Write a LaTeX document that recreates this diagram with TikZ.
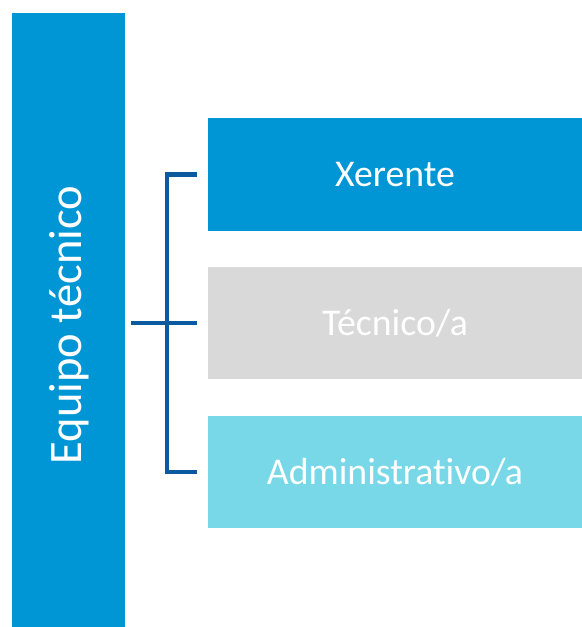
\documentclass[tikz,border=0pt]{standalone}
\usepackage{fontspec}
\setmainfont{Carlito}[Ligatures=NoCommon]
\usepackage{tikz}
\usetikzlibrary{positioning}

\definecolor{barblue}{RGB}{0,150,214}
\definecolor{linkblue}{RGB}{11,90,160}
\definecolor{boxgray}{RGB}{217,217,217}
\definecolor{boxcyan}{RGB}{120,216,232}

\begin{document}
\begin{tikzpicture}[
    x=0.02cm, y=-0.02cm,
    team/.style={
        rectangle,
        fill=barblue,
        minimum width=2.26cm,
        minimum height=12.28cm,
        inner sep=0pt
    },
    teamlabel/.style={
        rotate=90,
        inner sep=0pt,
        text=white,
        font=\fontsize{26.5}{30}\selectfont
    },
    role/.style={
        rectangle,
        minimum width=7.48cm,
        minimum height=2.26cm,
        inner sep=0pt,
        text=white,
        font=\fontsize{21.5}{25}\selectfont
    },
    link/.style={
        -,
        line width=2.3pt,
        linkblue
    }
]

% marco
\useasboundingbox (0,0) rectangle (582,627);

% barra vertical
\node[team] (equipo) at (68.5, 320) {};
\node[teamlabel] (equipo_txt) at (69, 325) {Equipo técnico};

% caixas dos postos
\node[role, fill=barblue]  (xerente) at (395, 174.5) {Xerente};
\node[role, fill=boxgray]  (tecnico) at (395, 323)   {Técnico/a};
\node[role, fill=boxcyan]  (admin)   at (395, 472)   {Administrativo/a};

% chave
\coordinate (root)  at (131, 323);
\coordinate (spine) at (167, 323);
\draw[link] (root) -- (spine);
\draw[link] ([xshift=-6pt]xerente.west) -| (spine |- admin.west) -- ([xshift=-6pt]admin.west);
\draw[link] (spine) -- ([xshift=-6pt]tecnico.west);

\end{tikzpicture}
\end{document}
